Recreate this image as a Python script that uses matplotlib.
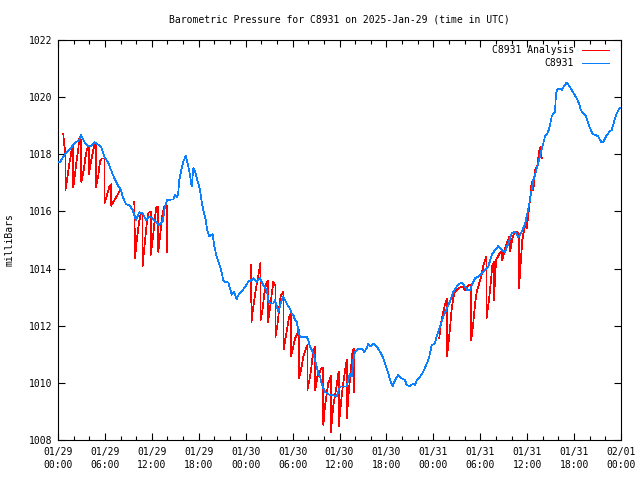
import numpy as np
import matplotlib
matplotlib.use("Agg")
import matplotlib.pyplot as plt

# hours since 2025-01-29 00:00 UTC and pressure (mb)
obs_hours = [0.0, 0.26, 0.81, 1.45, 2.08, 2.72, 2.94, 3.36, 3.80, 4.22, 4.64, 5.08, 5.50, 5.92,
             6.36, 6.78, 7.20, 7.64, 8.06, 8.27, 8.70, 9.12, 9.55, 9.98, 10.40, 10.83, 11.25,
             11.68, 12.11, 12.53, 12.96, 13.39, 13.68, 13.98, 14.75, 14.96, 15.26, 15.39, 15.51,
             15.82, 16.02, 16.33, 16.59, 16.88, 17.10, 17.30, 17.52, 17.82, 18.16, 18.38, 18.58,
             18.89, 19.09, 19.35, 19.57, 19.78, 19.99, 20.30, 20.59, 20.85, 21.14, 21.36, 21.78,
             22.00, 22.21, 22.51, 22.85, 23.15, 23.49, 23.79, 24.04, 24.34, 24.77, 24.98, 25.41,
             25.83, 26.26, 26.69, 26.90, 27.11, 27.54, 27.75, 28.17, 28.61, 28.81, 29.25, 29.45,
             29.67, 29.89, 30.09, 30.31, 30.53, 30.73, 30.95, 31.81, 32.01, 32.23, 32.65, 32.87,
             33.09, 33.29, 33.51, 33.72, 33.93, 34.15, 34.44, 34.79, 35.21, 35.64, 36.07, 36.92,
             37.34, 37.56, 37.77, 37.98, 38.41, 38.84, 39.14, 39.48, 39.68, 39.99, 40.32, 40.76,
             41.18, 41.60, 41.95, 42.24, 42.55, 42.81, 43.10, 43.52, 43.96, 44.38, 44.60, 45.02,
             45.44, 45.66, 45.88, 46.30, 46.72, 47.06, 47.36, 47.58, 47.79, 48.21, 48.43, 48.85,
             49.28, 49.71, 50.13, 50.56, 50.99, 51.41, 51.71, 52.05, 52.35, 52.69, 52.91, 53.33,
             53.75, 54.19, 54.61, 55.03, 55.47, 55.89, 56.31, 56.75, 57.17, 57.59, 58.02, 58.45,
             58.87, 59.30, 59.73, 60.02, 60.28, 60.58, 60.79, 61.00, 61.30, 61.52, 61.73, 61.99,
             62.28, 62.58, 62.83, 63.14, 63.35, 63.56, 63.69, 63.86, 64.11, 64.42, 64.71, 65.06,
             65.39, 65.70, 65.99, 66.34, 66.63, 66.85, 67.18, 67.53, 67.82, 68.13, 68.38, 68.81,
             69.10, 69.44, 69.74, 70.08, 70.51, 70.81, 71.11, 71.45, 71.78, 72.0]
obs_mb = [1017.75, 1017.73, 1017.97, 1018.15, 1018.38, 1018.50, 1018.67, 1018.44, 1018.30, 1018.30,
          1018.42, 1018.35, 1018.27, 1017.92, 1017.74, 1017.45, 1017.16, 1016.92, 1016.75, 1016.52,
          1016.25, 1016.22, 1016.05, 1015.70, 1015.97, 1015.93, 1015.70, 1015.82, 1015.76, 1015.64,
          1015.53, 1015.64, 1016.17, 1016.40, 1016.42, 1016.57, 1016.49, 1016.69, 1017.10, 1017.51,
          1017.74, 1017.94, 1017.68, 1017.27, 1016.87, 1017.51, 1017.39, 1017.10, 1016.75, 1016.34,
          1016.05, 1015.70, 1015.35, 1015.12, 1015.17, 1015.20, 1014.77, 1014.42, 1014.18, 1013.95,
          1013.60, 1013.54, 1013.51, 1013.31, 1013.08, 1013.19, 1012.92, 1013.13, 1013.19, 1013.31,
          1013.40, 1013.54, 1013.60, 1013.66, 1013.54, 1013.66, 1013.42, 1013.25, 1012.90, 1012.78,
          1012.78, 1012.90, 1012.49, 1012.90, 1013.02, 1012.78, 1012.67, 1012.60, 1012.43, 1012.38,
          1012.20, 1012.14, 1011.85, 1011.62, 1011.60, 1011.50, 1011.27, 1011.03, 1010.80, 1010.57,
          1010.33, 1010.22, 1009.98, 1009.81, 1009.69, 1009.63, 1009.57, 1009.57, 1009.52, 1009.87,
          1009.87, 1010.33, 1010.22, 1010.80, 1011.09, 1011.18, 1011.20, 1011.09, 1011.20, 1011.36,
          1011.27, 1011.38, 1011.27, 1011.09, 1010.86, 1010.57, 1010.33, 1010.04, 1009.89, 1010.10,
          1010.27, 1010.16, 1010.10, 1009.92, 1009.89, 1009.98, 1009.92, 1010.10, 1010.22, 1010.39,
          1010.62, 1010.80, 1011.03, 1011.32, 1011.38, 1011.62, 1011.97, 1012.32, 1012.60, 1012.84,
          1013.19, 1013.37, 1013.48, 1013.50, 1013.37, 1013.25, 1013.23, 1013.42, 1013.66, 1013.72,
          1013.83, 1013.95, 1014.07, 1014.48, 1014.65, 1014.79, 1014.65, 1014.59, 1014.88, 1015.23,
          1015.29, 1015.10, 1015.29, 1015.55, 1015.93, 1016.28, 1016.75, 1017.10, 1017.27, 1017.57,
          1017.80, 1018.03, 1018.32, 1018.62, 1018.73, 1018.91, 1019.32, 1019.43, 1019.49, 1020.13,
          1020.25, 1020.31, 1020.25, 1020.39, 1020.51, 1020.39, 1020.25, 1020.11, 1019.96, 1019.78,
          1019.55, 1019.43, 1019.32, 1019.08, 1018.85, 1018.71, 1018.67, 1018.62, 1018.44, 1018.44,
          1018.62, 1018.79, 1018.85, 1019.14, 1019.43, 1019.61, 1019.64]

# analysis series, nan separates the pieces
ana_hours = [0.68, 0.81, 0.95, 0.95, 1.22, 1.45, 1.66, 1.79, 1.95, 1.95, 2.21, 2.39, 2.60, 2.72,
             2.98, 2.98, 3.29, 3.49, 3.71, 3.93, 3.93, 4.22, 4.44, 4.64, 4.85, 4.85, 5.15, 5.37,
             5.59, 5.96, 5.96, 6.30, 6.56, 6.80, 6.80, 7.93, np.nan,
             9.76, 9.85, 10.04, 10.30, 10.55, 10.81, 10.81, 11.06, 11.32, 11.57, 11.85, 11.85,
             12.15, 12.41, 12.60, 12.83, 12.83, 13.11, 13.36, 13.59, 13.90, 13.90, np.nan,
             24.68, 24.75, 24.90, 25.10, 25.32, 25.58, 25.90, 25.90, 26.18, 26.38, 26.60, 26.85,
             26.85, 27.11, 27.33, 27.54, 27.80, 27.80, 28.05, 28.26, 28.48, 28.85, 28.85, 29.12,
             29.33, 29.54, 29.80, 29.80, 30.09, 30.31, 30.85, 30.85, 31.17, 31.37, 31.59, 31.90,
             31.90, 32.23, 32.45, 32.65, 32.90, 32.90, 33.16, 33.51, 33.72, 33.93, 33.93, 34.15,
             34.36, 34.57, 34.90, 34.90, 35.21, 35.43, 35.90, 35.90, 36.19, 36.41, 36.61, 36.92,
             36.92, 37.22, 37.43, 37.69, 37.85, 37.85, np.nan,
             48.76, 48.98, 49.28, 49.49, 49.75, 49.75, 50.13, 50.35, 50.56, 50.77, 51.19, 51.63,
             51.83, 52.05, 52.47, 52.85, 52.85, 53.11, 53.33, 53.55, 53.88, 54.19, 54.39, 54.80,
             54.80, 55.12, 55.34, 55.54, 55.75, 55.75, 56.02, 56.31, 56.53, 56.82, 56.82, 57.17,
             57.42, 57.68, 57.83, 57.83, 58.06, 58.32, 58.57, 58.95, 58.95, 59.17, 59.38, 59.60,
             59.79, 59.94, 60.11, 60.36, 60.58, 60.79, 61.00, 61.30, 61.56, 61.73, 61.86]
ana_mb = [1018.70, 1018.30, 1018.05, 1016.75, 1017.22, 1017.68, 1017.97, 1018.30, 1018.35, 1016.85,
          1017.39, 1017.80, 1018.21, 1018.55, 1018.50, 1017.04, 1017.45, 1017.86, 1018.20, 1018.25,
          1017.30, 1017.74, 1018.05, 1018.30, 1018.35, 1016.85, 1017.25, 1017.74, 1017.85, 1017.85,
          1016.30, 1016.60, 1016.87, 1016.95, 1016.20, 1016.73, np.nan,
          1016.34, 1014.36, 1014.90, 1015.50, 1015.90, 1015.95, 1014.07, 1014.80, 1015.50, 1015.95,
          1016.00, 1014.48, 1015.10, 1015.80, 1016.17, 1016.17, 1014.59, 1015.30, 1015.90, 1016.17,
          1016.20, 1014.59, np.nan,
          1014.13, 1012.14, 1012.50, 1012.90, 1013.30, 1013.70, 1014.20, 1012.20, 1012.60, 1013.10,
          1013.45, 1013.58, 1012.14, 1012.60, 1013.10, 1013.54, 1013.40, 1011.60, 1012.00, 1012.55,
          1013.05, 1013.19, 1011.17, 1011.60, 1011.95, 1012.30, 1012.43, 1010.94, 1011.27, 1011.56,
          1011.85, 1010.17, 1010.60, 1010.90, 1011.10, 1011.32, 1009.75, 1010.20, 1010.65, 1011.15,
          1011.27, 1009.75, 1010.20, 1010.40, 1010.54, 1010.54, 1008.53, 1009.20, 1009.60, 1010.00,
          1010.24, 1008.29, 1009.20, 1009.55, 1010.40, 1008.47, 1009.30, 1009.85, 1010.25, 1010.80,
          1008.76, 1009.80, 1010.40, 1011.15, 1011.20, 1009.66, np.nan,
          1011.56, 1012.10, 1012.49, 1012.75, 1012.95, 1010.92, 1011.90, 1012.60, 1013.00, 1013.20,
          1013.30, 1013.37, 1013.35, 1013.25, 1013.40, 1013.45, 1011.50, 1012.10, 1012.75, 1013.20,
          1013.50, 1013.80, 1014.10, 1014.42, 1012.26, 1012.90, 1013.50, 1014.10, 1014.24, 1012.90,
          1014.30, 1014.45, 1014.55, 1014.65, 1014.30, 1014.70, 1014.90, 1015.10, 1015.10, 1014.60,
          1015.00, 1015.25, 1015.30, 1015.20, 1013.31, 1014.20, 1015.00, 1015.35, 1015.60, 1015.40,
          1015.80, 1016.40, 1017.04, 1016.75, 1017.45, 1017.60, 1018.15, 1018.27, 1017.86]

tick_hours = list(range(0, 73, 6))
tick_labels = ["01/29\n00:00", "01/29\n06:00", "01/29\n12:00", "01/29\n18:00",
               "01/30\n00:00", "01/30\n06:00", "01/30\n12:00", "01/30\n18:00",
               "01/31\n00:00", "01/31\n06:00", "01/31\n12:00", "01/31\n18:00",
               "02/01\n00:00"]

plt.rcParams['font.family'] = 'DejaVu Sans Mono'
plt.rcParams['font.size'] = 7

red = '#ff0000'
blue = '#0a80ff'

fig = plt.figure(figsize=(6.4, 4.8), dpi=100)
ax = fig.add_axes([58/640, 40/480, 563/640, 400/480])

# gnuplot png look: 1 px lines, no antialiasing
ax.plot(ana_hours, ana_mb, color=red, lw=0.5, antialiased=False, zorder=2)
ax.plot(obs_hours, obs_mb, color=blue, lw=0.5, antialiased=False, zorder=3)

ax.set_xlim(0, 72)
ax.set_ylim(1008, 1022)
ax.set_xticks(tick_hours)
ax.set_xticklabels(tick_labels, linespacing=1.35)
ax.set_xticks(np.arange(0, 73, 2), minor=True)
ax.set_yticks(np.arange(1008, 1023, 2))
ax.tick_params(which='both', direction='in', top=True, right=True, width=0.8)
ax.tick_params(which='major', length=5)
ax.tick_params(which='minor', length=3)
ax.tick_params(axis='x', which='major', pad=5)
ax.tick_params(axis='y', which='major', pad=4)
for s in ax.spines.values():
    s.set_linewidth(0.8)

# gnuplot style key, text right aligned left of the sample line
for i, (lab, col) in enumerate([("C8931 Analysis", red), ("C8931", blue)]):
    yk = 0.975 - i * 0.0325
    ax.text(0.9165, yk, lab, transform=ax.transAxes, ha='right', va='center')
    ax.plot([0.9307, 0.9787], [yk, yk], transform=ax.transAxes, color=col, lw=0.5,
            antialiased=False)

fig.text(339/640, 1 - 19/480, "Barometric Pressure for C8931 on 2025-Jan-29 (time in UTC)",
         ha='center', va='center')
fig.text(10/640, 0.5, "milliBars", rotation=90, ha='center', va='center')

fig.savefig("out.png", dpi=100)
